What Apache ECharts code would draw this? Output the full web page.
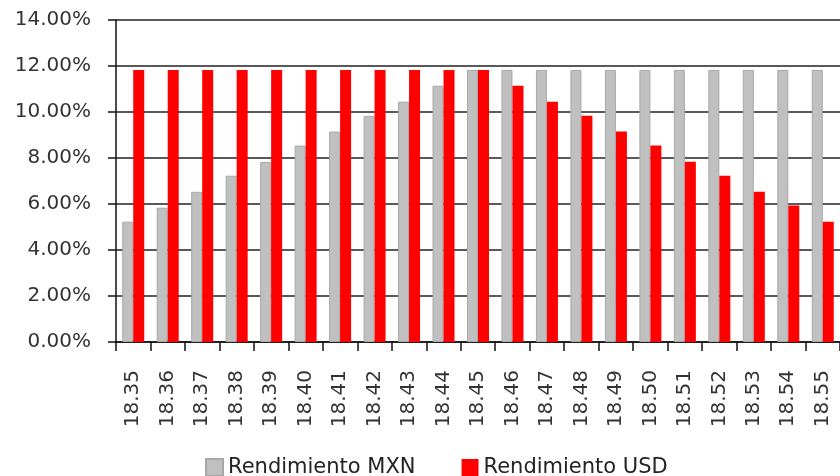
<!DOCTYPE html>
<html>
<head>
<meta charset="utf-8">
<script src="https://cdn.jsdelivr.net/npm/echarts@6/dist/echarts.min.js"></script>
<style>
  html, body { margin: 0; padding: 0; background: #fff; }
  #chart { width: 840px; height: 476px; }
</style>
</head>
<body>
<div id="chart"></div>
<script>
  // tipo de cambio
  let categories = ['18.35', '18.36', '18.37', '18.38', '18.39', '18.40', '18.41', '18.42', '18.43', '18.44', '18.45',
    '18.46', '18.47', '18.48', '18.49', '18.50', '18.51', '18.52', '18.53', '18.54', '18.55']
  // rendimientos en %
  let mxn = [5.23, 5.84, 6.53, 7.23, 7.83, 8.54, 9.15, 9.83, 10.45, 11.14, 11.83,
    11.83, 11.83, 11.83, 11.83, 11.83, 11.83, 11.83, 11.83, 11.83, 11.83]
  let usd = [11.83, 11.83, 11.83, 11.83, 11.83, 11.83, 11.83, 11.83, 11.83, 11.83, 11.83,
    11.14, 10.45, 9.84, 9.15, 8.54, 7.84, 7.23, 6.53, 5.93, 5.23]
  let seriesNames = ['Rendimiento MXN', 'Rendimiento USD']

  let font = 'DejaVu Sans'
  let chart = echarts.init(document.getElementById('chart'))
  let option = {
    animation: false,
    textStyle: { fontFamily: font },
    legend: {
      data: seriesNames,
      left: 200,
      top: 452,
      itemWidth: 17,
      itemHeight: 17,
      itemGap: 46,
      icon: 'rect',
      textStyle: { fontSize: 21, color: '#222', fontFamily: font }
    },
    grid: {
      left: 116,
      top: 20,
      width: 727,
      bottom: 134
    },
    xAxis: {
      type: 'category',
      data: categories,
      boundaryGap: true,
      axisLine: { lineStyle: { color: '#111', width: 1.5 } },
      axisTick: { show: true, length: 9, lineStyle: { color: '#111', width: 1.5 } },
      axisLabel: {
        interval: 0,
        rotate: 90,
        margin: 28,
        fontSize: 20,
        color: '#333',
        fontFamily: font
      }
    },
    yAxis: {
      type: 'value',
      min: 0,
      max: 14,
      interval: 2,
      axisLine: { show: true, lineStyle: { color: '#111', width: 1.5 } },
      axisTick: { show: true, length: 8, lineStyle: { color: '#111', width: 1.5 } },
      axisLabel: {
        margin: 25,
        fontSize: 20,
        color: '#333',
        fontFamily: font,
        formatter: v => v.toFixed(2) + '%'
      },
      splitLine: { show: true, lineStyle: { color: '#222', width: 1.5 } }
    },
    series: [
      {
        name: seriesNames[0],
        type: 'bar',
        data: mxn,
        barWidth: 11,
        barGap: '0%',
        itemStyle: { color: '#c0c0c0', borderColor: '#a8a8a8', borderWidth: 1 }
      },
      {
        name: seriesNames[1],
        type: 'bar',
        data: usd,
        barWidth: 11,
        itemStyle: { color: '#ff0000' }
      }
    ]
  }
  chart.setOption(option)
</script>
</body>
</html>
